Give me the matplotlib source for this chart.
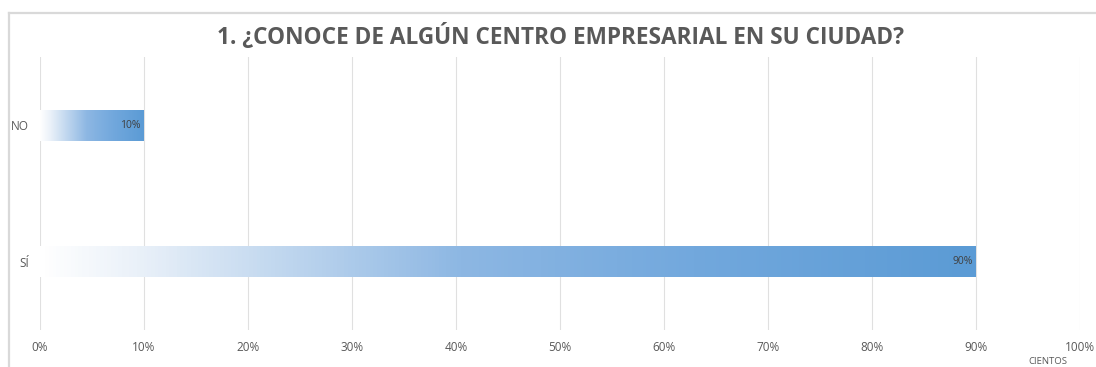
import matplotlib.pyplot as plt
import numpy as np
from matplotlib.colors import LinearSegmentedColormap
from matplotlib.lines import Line2D

# Survey answers and their shares
categories = ['NO', 'SÍ']
shares = [0.10, 0.90]
tick_values = [0, 0.1, 0.2, 0.3, 0.4, 0.5, 0.6, 0.7, 0.8, 0.9, 1.0]
tick_labels = ['0%', '10%', '20%', '30%', '40%', '50%', '60%', '70%', '80%', '90%', '100%']
title = '1. ¿CONOCE DE ALGÚN CENTRO EMPRESARIAL EN SU CIUDAD?'

plt.rcParams['font.family'] = ['Open Sans', 'DejaVu Sans']

grey_text = '#595959'
grid_grey = '#d9d9d9'

# White-to-blue fill along the bar length
fade = LinearSegmentedColormap.from_list(
    'fade', [(0.0, '#ffffff'), (0.1, '#eaf1f9'), (0.25, '#c2d8ef'),
             (0.45, '#8db7e3'), (0.7, '#72a8dd'), (1.0, '#5b9bd5')])

fig = plt.figure(figsize=(10.96, 3.67), dpi=100)
ax = fig.add_axes([0.0365, 0.1008, 0.9489, 0.7439])

ypos = np.arange(len(categories))[::-1]
bar_h = 0.23
bars = ax.barh(ypos, shares, height=bar_h, color='none', edgecolor='none', zorder=3)

grad = np.linspace(0, 1, 256).reshape(1, -1)
for bar, val, y in zip(bars, shares, ypos):
    img = ax.imshow(grad, cmap=fade, aspect='auto', interpolation='bilinear',
                    extent=[0, val, y - bar_h / 2, y + bar_h / 2], zorder=3)
    img.set_clip_path(bar)
    ax.text(val - 0.003, y, f'{val:.0%}', ha='right', va='center',
            fontsize=7.5, color='#404040', zorder=4)

ax.set_xlim(0, 1.0)
ax.set_ylim(-0.5, len(categories) - 0.5)
ax.set_xticks(tick_values)
ax.set_xticklabels(tick_labels, fontsize=8.5, color=grey_text)
ax.set_yticks(ypos)
ax.set_yticklabels(categories, fontsize=8.5, color=grey_text)
ax.tick_params(axis='both', length=0)
ax.tick_params(axis='x', pad=8)
ax.tick_params(axis='y', pad=8)
ax.xaxis.grid(True, color='#e0e0e0', lw=0.8)
ax.set_axisbelow(True)
for s in ax.spines.values():
    s.set_visible(False)

ax.set_title(title, fontsize=16.3, fontweight='bold', color=grey_text, pad=9)

# display-units caption under the axis end
fig.text(0.956, 0.014, 'CIENTOS', fontsize=6.8, color=grey_text, ha='center', va='center')

# chart-area frame (left and top edges)
fig.add_artist(Line2D([0.0078, 0.0078], [0, 1 - 13 / 367], color=grid_grey, lw=1.6))
fig.add_artist(Line2D([0.0078, 1], [1 - 13 / 367, 1 - 13 / 367], color=grid_grey, lw=1.6))

fig.savefig('out.png', dpi=100, facecolor='white')
